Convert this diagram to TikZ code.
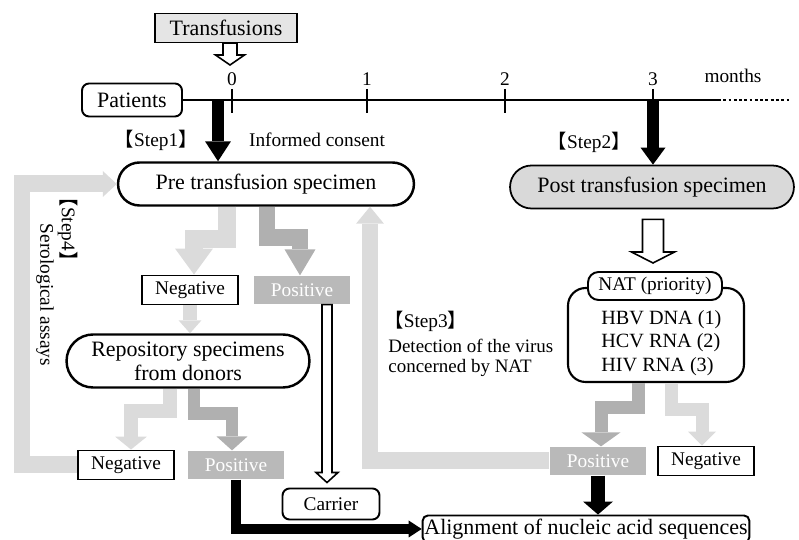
\documentclass[tikz,border=0pt]{standalone}
\usepackage{fontspec}
\setmainfont{Liberation Serif}
\newfontfamily\cjkfont{Noto Sans CJK JP}
\usetikzlibrary{arrows.meta,calc,shapes.misc}

\newcommand{\bigfont}{\fontsize{12.5}{15}\selectfont}
\newcommand{\smallfont}{\fontsize{11}{13}\selectfont}
% lenticular brackets round the step number
\newcommand{\stepno}[1]{{\cjkfont\hspace{-0.5em}【}Step#1{\cjkfont 】\hspace{-0.5em}}}
% hollow block arrow pointing down: from, tip, shaft half, head half, head length
\newcommand{\hollowdown}[5]{%
  \draw[hollow] let \p1=(#1), \p2=(#2) in
    (\x1-#3,\y1) -- (\x1-#3,\y2+#5) -- (\x1-#4,\y2+#5) -- (\x1,\y2)
    -- (\x1+#4,\y2+#5) -- (\x1+#3,\y2+#5) -- (\x1+#3,\y1) -- cycle;}

\begin{document}
\begin{tikzpicture}[x=0.02cm, y=-0.02cm,
  font=\bigfont,
  plain/.style={draw, line width=1.1pt, fill=white, inner sep=1pt},
  negbox/.style={plain, font=\smallfont, minimum width=1.92cm, minimum height=0.58cm},
  posbox/.style={fill=gray!55, text=white, font=\smallfont, minimum width=1.94cm,
    minimum height=0.57cm, inner sep=1pt},
  capsule/.style={rounded rectangle, draw, line width=1.4pt, inner sep=2pt},
  note/.style={font=\smallfont, inner sep=1pt},
  lightarr/.style={draw=gray!28, line join=miter},
  darkarr/.style={draw=gray!62, line join=miter},
  blackarr/.style={draw=black, line join=miter},
  blockhead/.style 2 args={-{Triangle[width=#1, length=#2, line width=0pt]}},
  hollow/.style={draw, fill=white, line width=0.9pt, line join=miter},
]
\useasboundingbox (0,0) rectangle (799,540);

% ============================================================
% TIME AXIS
% ============================================================
\node[draw, fill=gray!20, line width=0.8pt, minimum width=2.84cm, minimum height=0.58cm]
  (trans) at (226,28) {Transfusions};
\node[plain, rounded corners=4pt, minimum width=2.0cm, minimum height=0.66cm]
  (patients) at (132,100) {Patients};

\coordinate (tend) at (718,0 |- patients.east);
\coordinate (tdots) at (790,0 |- patients.east);
\draw[line width=1.2pt] (patients.east) -- (tend);
\draw[line width=1.5pt, dash pattern=on 1.6pt off 1.4pt] (tend) -- (tdots);
\foreach \x/\m in {232/0,367/1,505/2,653/3} {
  \draw[line width=1.4pt] (\x,89) -- (\x,113);
  \node[note] (t\m) at (\x,79) {\m};
}
\node[note] (months) at (733,76) {months};

\coordinate (transtip) at (230,65);
\hollowdown{230,0 |- trans.south}{transtip}{0.14cm}{0.29cm}{0.2cm}

% ============================================================
% STEP 1 / STEP 2: SPECIMENS
% ============================================================
\node[capsule, minimum width=6.06cm, minimum height=0.86cm]
  (pre) at (266,184) {Pre transfusion specimen};
\node[capsule, fill=gray!30, line width=1pt, minimum width=5.82cm, minimum height=0.86cm]
  (post) at (652,187) {Post transfusion specimen};

\node[note] (step1) at (161,140) {\stepno{1}};
\node[note, anchor=west] (consent) at (247,140) {Informed consent};
\node[note] (step2) at (594,142) {\stepno{2}};

\draw[blackarr, line width=0.24cm, blockhead={0.52cm}{0.4cm}]
  (218,0 |- patients.east) -- (218,0 |- pre.north);
\draw[blackarr, line width=0.24cm, blockhead={0.5cm}{0.34cm}]
  (653,0 |- patients.east) -- (653,0 |- post.north);

% ============================================================
% PRE TRANSFUSION BRANCH
% ============================================================
\node[negbox] (neg1) at (190,290) {Negative};
\node[posbox] (pos1) at (302,290) {Positive};
\node[capsule, align=center, minimum width=5.0cm, minimum height=1.06cm,
  font=\fontsize{12.5}{13.5}\selectfont]
  (repo) at (188,361) {Repository specimens\\from donors};
\node[negbox] (neg2) at (126,465) {Negative};
\node[posbox] (pos2) at (236,465) {Positive};
\node[plain, rounded corners=4pt, font=\smallfont, minimum width=1.94cm, minimum height=0.62cm]
  (carrier) at (331,504) {Carrier};

\draw[lightarr, line width=0.36cm, blockhead={0.76cm}{0.52cm}]
  (227,0 |- pre.south) -- (227,239) -- (194,239) -- (194,0 |- neg1.north);
\draw[darkarr, line width=0.34cm, blockhead={0.62cm}{0.52cm}]
  (267,0 |- pre.south) -- (267,238) -- (300,238) -- (300,0 |- pos1.north);
\draw[lightarr, line width=0.3cm, blockhead={0.46cm}{0.26cm}]
  (neg1.south) -- (neg1.south |- repo.north);
\draw[lightarr, line width=0.28cm, blockhead={0.64cm}{0.26cm}]
  (170,0 |- repo.south) -- (170,411) -- (131,411) -- (131,0 |- neg2.north);
\draw[darkarr, line width=0.26cm, blockhead={0.62cm}{0.28cm}]
  (194,0 |- repo.south) -- (194,414) -- (232,414) -- (232,0 |- pos2.north);
\hollowdown{327,0 |- pos1.south}{$(327,0 |- carrier.north)+(0,-5)$}{0.1cm}{0.22cm}{0.2cm}

% ============================================================
% POST TRANSFUSION BRANCH (NAT)
% ============================================================
\hollowdown{$(653,0 |- post.south)+(0,10)$}{653,263}{0.21cm}{0.43cm}{0.22cm}

\node[draw, line width=1.2pt, rounded corners=10pt, minimum width=3.52cm, minimum height=1.88cm]
  (natbox) at (656,335) {};
\node[plain, rounded corners=6pt, font=\smallfont, minimum width=2.68cm, minimum height=0.56cm]
  (natlabel) at (655,286) {NAT (priority)};
\node[anchor=west, align=left, inner sep=0pt, font=\fontsize{11.5}{13.4}\selectfont]
  (natlist) at (601,343) {HBV DNA (1)\\HCV RNA (2)\\HIV RNA (3)};

\node[posbox] (pos3) at (598,461) {Positive};
\node[negbox] (neg3) at (706,461) {Negative};
\node[plain, rounded corners=3pt, minimum width=6.06cm, minimum height=0.54cm]
  (align) at (586,529) {Alignment of nucleic acid sequences};

\draw[darkarr, line width=0.26cm, blockhead={0.78cm}{0.28cm}]
  (638,0 |- natbox.south) -- (638,408) -- (601,408) -- (601,0 |- pos3.north);
\draw[lightarr, line width=0.26cm, blockhead={0.56cm}{0.28cm}]
  (671,0 |- natbox.south) -- (671,410) -- (702,410) -- (702,0 |- neg3.north);

\draw[blackarr, line width=0.28cm, blockhead={0.6cm}{0.26cm}]
  (pos3.south) -- (pos3.south |- align.north);
\draw[blackarr, line width=0.2cm, blockhead={0.34cm}{0.26cm}]
  (pos2.south) |- (align.west);

% ============================================================
% STEP 3 / STEP 4: FEEDBACK TO PRE TRANSFUSION SPECIMEN
% ============================================================
\node[note, anchor=west] (step3) at (392,321) {\stepno{3}};
\node[anchor=west, align=left, inner sep=0pt, font=\fontsize{10.8}{11.5}\selectfont]
  (detect) at (388,358) {Detection of the virus\\concerned by NAT};

\draw[lightarr, line width=0.34cm, blockhead={0.56cm}{0.34cm}]
  (pos3.west) -- (370,0 |- pos3.west) -- (370,0 |- pre.south);
\draw[lightarr, line width=0.34cm, blockhead={0.52cm}{0.28cm}]
  (neg2.west) -- (22,0 |- neg2.west) -- (22,0 |- pre.west) -- (pre.west);

\node[note, rotate=-90] (step4) at (68,234) {\stepno{4}};
\node[note, rotate=-90] (sero) at (45,295) {Serological assays};

\end{tikzpicture}
\end{document}
